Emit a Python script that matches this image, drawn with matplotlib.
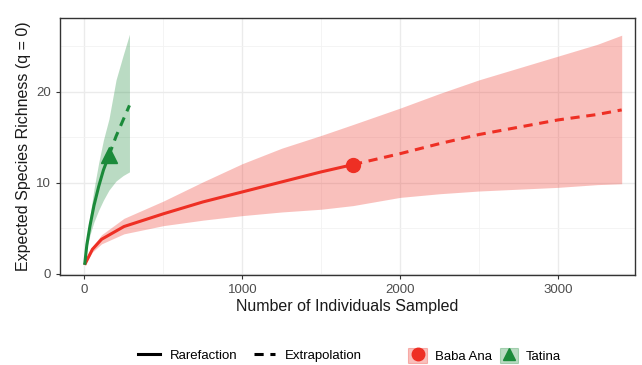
import matplotlib
matplotlib.use("Agg")
import matplotlib.pyplot as plt
from matplotlib.lines import Line2D
from matplotlib.patches import Patch

plt.rcParams['font.family'] = ['Liberation Sans', 'DejaVu Sans']

# Baba Ana (red): rarefaction and extrapolation with 95% CI
baba_rare_n = [1, 50, 108, 250, 500, 750, 1000, 1250, 1500, 1702]
baba_rare_s = [1, 2.7, 3.8, 5.2, 6.6, 7.9, 9.0, 10.1, 11.2, 12.0]
baba_rare_lo = [1, 2.4, 3.3, 4.4, 5.3, 5.9, 6.4, 6.8, 7.1, 7.5]
baba_rare_hi = [1, 3.0, 4.3, 6.1, 8.0, 10.1, 12.1, 13.8, 15.2, 16.4]
baba_ext_n = [1702, 2000, 2250, 2500, 2750, 3000, 3250, 3404]
baba_ext_s = [12.0, 13.2, 14.3, 15.3, 16.1, 16.9, 17.5, 18.0]
baba_ext_lo = [7.5, 8.4, 8.8, 9.1, 9.3, 9.5, 9.8, 9.9]
baba_ext_hi = [16.4, 18.2, 19.8, 21.3, 22.6, 23.9, 25.2, 26.2]

# Tatina (green)
tat_rare_n = [1, 15, 35, 60, 90, 120, 155]
tat_rare_s = [1, 3.2, 5.3, 7.5, 9.6, 11.4, 13.0]
tat_rare_lo = [1, 2.8, 4.3, 5.7, 7.0, 8.1, 9.2]
tat_rare_hi = [1, 3.7, 6.4, 9.3, 12.2, 14.7, 17.0]
tat_ext_n = [155, 200, 245, 285]
tat_ext_s = [13.0, 15.1, 16.9, 18.5]
tat_ext_lo = [9.2, 10.2, 10.8, 11.2]
tat_ext_hi = [17.0, 21.3, 24.0, 26.3]

RED = '#EE2F24'
GREEN = '#1B8A3A'

fig = plt.figure(figsize=(6.42, 3.65), dpi=100)
ax = fig.add_axes([0.0935, 0.247, 0.896, 0.704])

for n_r, s_r, lo_r, hi_r, n_e, s_e, lo_e, hi_e, col, mk, ms in [
    (baba_rare_n, baba_rare_s, baba_rare_lo, baba_rare_hi,
     baba_ext_n, baba_ext_s, baba_ext_lo, baba_ext_hi, RED, 'o', 10),
    (tat_rare_n, tat_rare_s, tat_rare_lo, tat_rare_hi,
     tat_ext_n, tat_ext_s, tat_ext_lo, tat_ext_hi, GREEN, '^', 11),
]:
    ax.fill_between(n_r + n_e[1:], lo_r + lo_e[1:], hi_r + hi_e[1:],
                    color=col, alpha=0.3, lw=0, zorder=2)
    ax.plot(n_r, s_r, color=col, lw=2.2, solid_capstyle='butt', zorder=3)
    ax.plot(n_e, s_e, color=col, lw=2.2, dashes=(3, 2.2), zorder=3)
    ax.plot([n_r[-1]], [s_r[-1]], marker=mk, color=col, ms=ms, zorder=4)

ax.set_xlim(-155, 3490)
ax.set_ylim(-0.1, 28.1)
ax.set_xticks([0, 1000, 2000, 3000])
ax.set_yticks([0, 10, 20])
ax.set_xticks([500, 1500, 2500], minor=True)
ax.set_yticks([5, 15, 25], minor=True)
ax.grid(True, which='major', color='#EBEBEB', lw=1.0, zorder=0)
ax.grid(True, which='minor', color='#F2F2F2', lw=0.6, zorder=0)
ax.set_axisbelow(True)
ax.tick_params(which='major', length=3, color='#333333', labelsize=9.5,
               labelcolor='#4D4D4D', width=0.8)
ax.tick_params(which='minor', length=0)
for sp in ax.spines.values():
    sp.set_color('#333333')
    sp.set_linewidth(1.0)

ax.set_xlabel('Number of Individuals Sampled', fontsize=11.5, color='#1A1A1A', labelpad=2)
ax.set_ylabel('Expected Species Richness (q = 0)', fontsize=11.5, color='#1A1A1A', labelpad=4)

# legends
h_method = [Line2D([], [], color='black', lw=2.2),
            Line2D([], [], color='black', lw=2.2, dashes=(3, 2.2))]
leg1 = fig.legend(h_method, ['Rarefaction', 'Extrapolation'], loc='center',
                  bbox_to_anchor=(0.39, 0.025), ncol=2, frameon=False,
                  fontsize=9.5, handlelength=1.6, columnspacing=1.2, handletextpad=0.8)

h_site = [(Patch(facecolor=RED, alpha=0.3, edgecolor=RED, lw=0.8),
           Line2D([], [], marker='o', color=RED, ls='none', ms=9)),
          (Patch(facecolor=GREEN, alpha=0.3, edgecolor=GREEN, lw=0.8),
           Line2D([], [], marker='^', color=GREEN, ls='none', ms=9))]
leg2 = fig.legend(h_site, ['Baba Ana', 'Tatina'], loc='center',
                  bbox_to_anchor=(0.755, 0.025), ncol=2, frameon=False,
                  fontsize=9.5, handlelength=1.4, handleheight=1.4,
                  columnspacing=0.6, handletextpad=0.6)

fig.savefig('out.png', dpi=100)
